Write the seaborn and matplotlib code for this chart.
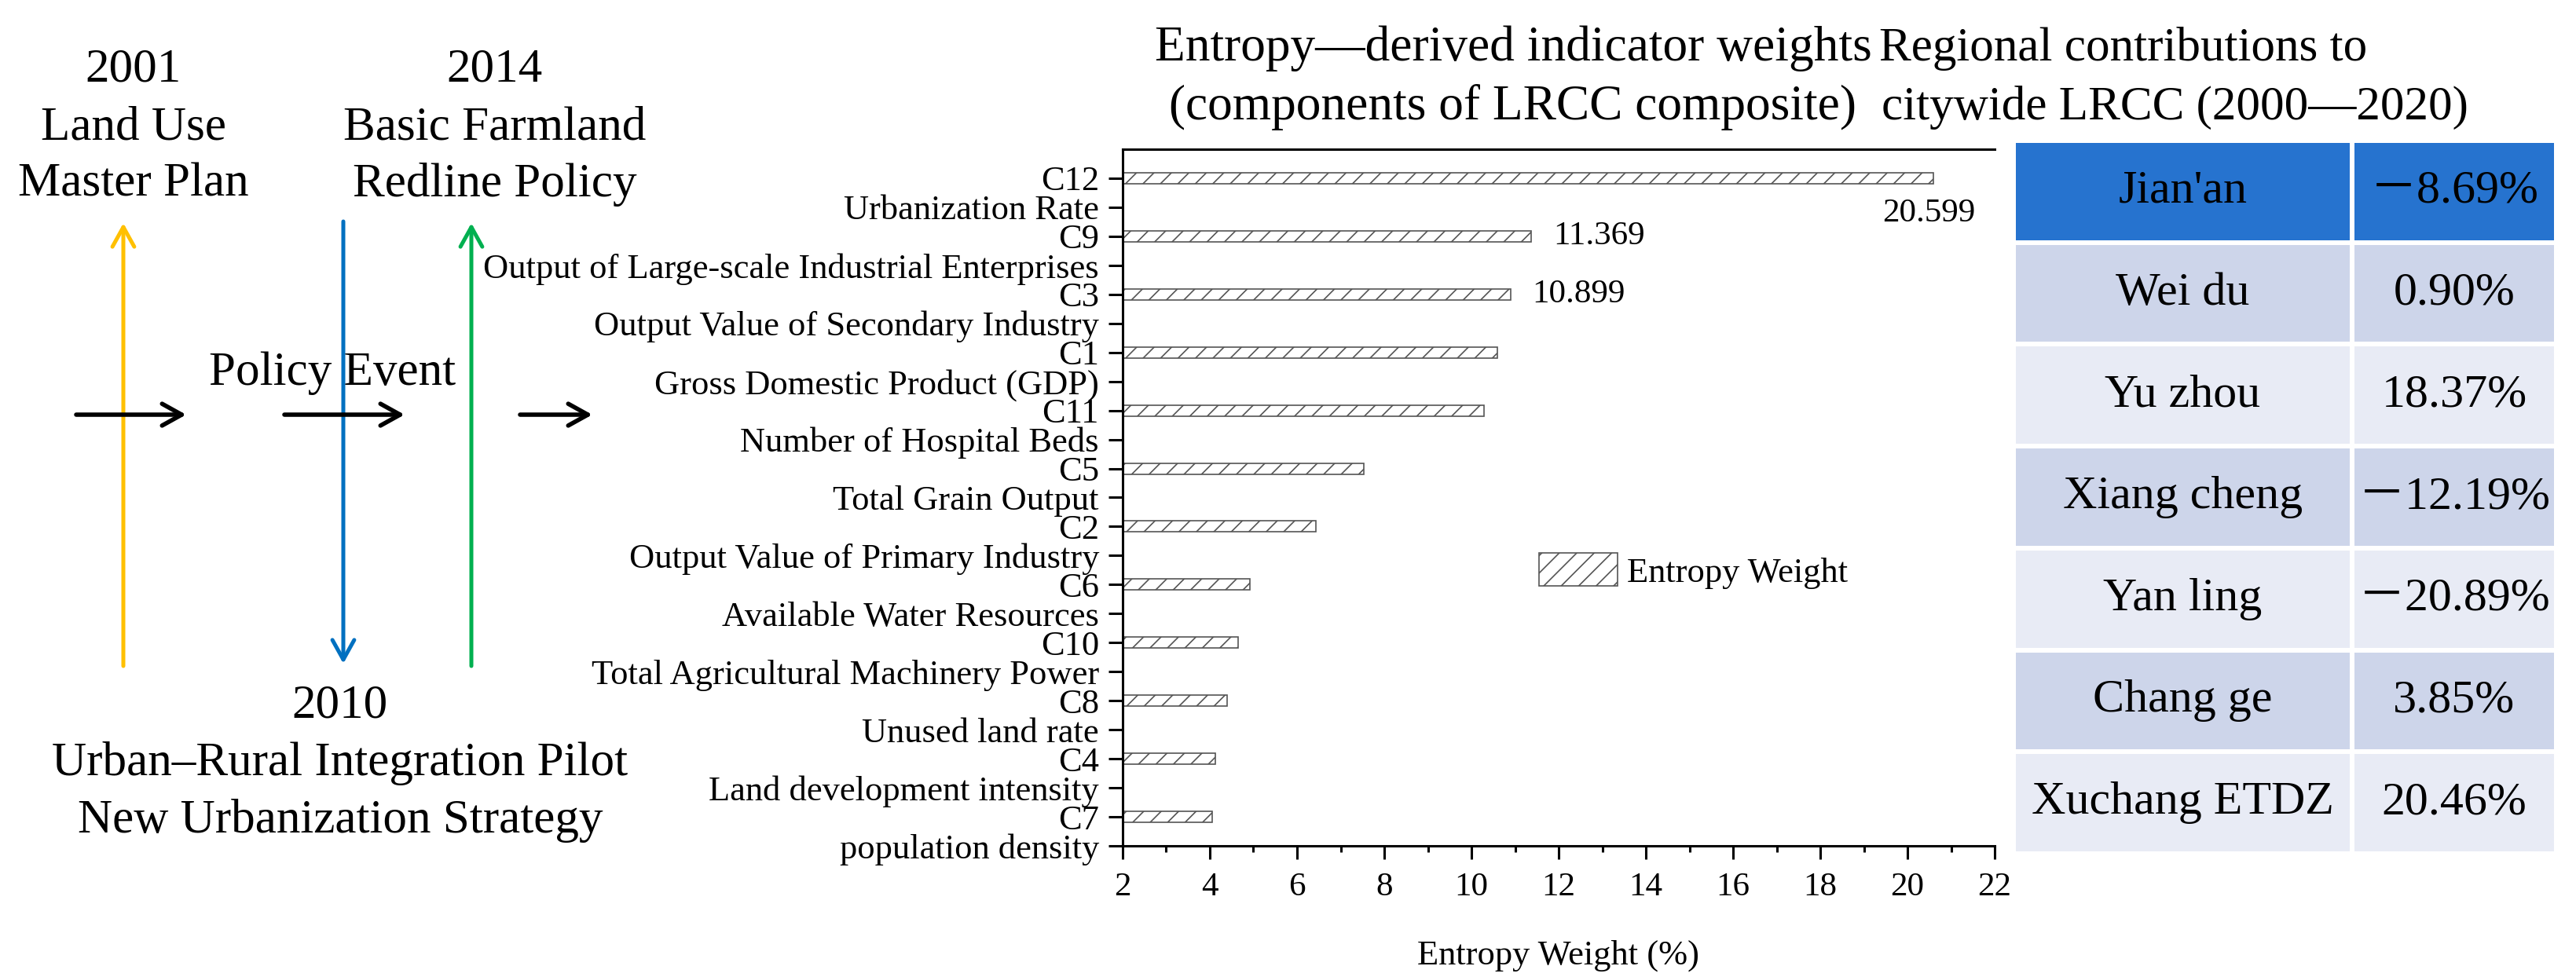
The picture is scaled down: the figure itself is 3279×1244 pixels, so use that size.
import matplotlib
matplotlib.use("Agg")
import matplotlib.pyplot as plt
from matplotlib.colors import ListedColormap
from matplotlib.patches import Patch
from matplotlib.ticker import MultipleLocator
import seaborn as sns
import pandas as pd
import numpy as np

# indicator weights (top to bottom)
CODES = ["C12", "C9", "C3", "C1", "C11", "C5", "C2", "C6", "C10", "C8", "C4", "C7"]
INDICATORS = [
    "Urbanization Rate",
    "Output of Large-scale Industrial Enterprises",
    "Output Value of Secondary Industry",
    "Gross Domestic Product (GDP)",
    "Number of Hospital Beds",
    "Total Grain Output",
    "Output Value of Primary Industry",
    "Available Water Resources",
    "Total Agricultural Machinery Power",
    "Unused land rate",
    "Land development intensity",
    "population density",
]
WEIGHTS = [20.599, 11.369, 10.899, 10.60, 10.29, 7.53, 6.43, 4.92, 4.64, 4.39, 4.13, 4.05]
LABELED = ["C12", "C9", "C3"]

# regional contributions table
REGIONS = ["Jian'an", "Wei du", "Yu zhou", "Xiang cheng", "Yan ling", "Chang ge", "Xuchang ETDZ"]
CONTRIB = [-8.69, 0.90, 18.37, -12.19, -20.89, 3.85, 20.46]

# policy events
EVENT_YEARS = ["2001", "2010", "2014"]
EVENT_NAMES = [
    ["Land Use", "Master Plan"],
    ["Urban\u2013Rural Integration Pilot", "New Urbanization Strategy"],
    ["Basic Farmland", "Redline Policy"],
]
EVENT_COLORS = ["#FFC000", "#0070C0", "#00B050"]

W, H = 3280, 1244
SERIF = ["Liberation Serif", "Noto Sans CJK SC", "DejaVu Sans"]

sns.set_theme(style="ticks")
plt.rcParams["font.family"] = SERIF
plt.rcParams["hatch.linewidth"] = 0.6
for k in ["text.color", "axes.labelcolor", "xtick.color", "ytick.color", "axes.edgecolor"]:
    plt.rcParams[k] = "black"

fig = plt.figure(figsize=(W / 200, H / 200), dpi=200)
fig.patch.set_facecolor("white")

# full-figure canvas in pixel units for the timeline and titles
canvas = fig.add_axes([0, 0, 1, 1])
canvas.set_xlim(0, W)
canvas.set_ylim(H, 0)
canvas.set_axis_off()

BIG = 22
ARROW = "->,head_length=0.45,head_width=0.25"
# (arrow x, tail y, tip y, text centre x, first baseline)
event_layout = [
    (157, 848, 284, 170, 104),
    (437, 282, 845, 433, 914),
    (600, 848, 284, 630, 104),
]
for (ax_x, tail, tip, tx, base), year, names, col in zip(event_layout, EVENT_YEARS, EVENT_NAMES, EVENT_COLORS):
    canvas.annotate("", xy=(ax_x, tip), xytext=(ax_x, tail),
                    arrowprops=dict(arrowstyle=ARROW, color=col, lw=1.8,
                                    mutation_scale=20, shrinkA=0, shrinkB=0))
    for j, line in enumerate([year] + names):
        canvas.text(tx, base + j * 73, line, ha="center", va="baseline", fontsize=BIG)

for x0, x1 in [(97, 237), (362, 515), (662, 754)]:
    canvas.annotate("", xy=(x1, 528), xytext=(x0, 528),
                    arrowprops=dict(arrowstyle=ARROW, color="black", lw=2.0,
                                    mutation_scale=20, shrinkA=0, shrinkB=0))
canvas.text(423, 490, "Policy Event", ha="center", va="baseline", fontsize=BIG)

# titles
canvas.text(1926, 77, "Entropy\u2014derived indicator weights", ha="center", va="baseline", fontsize=22.8)
canvas.text(1926, 152, "(components of LRCC composite)", ha="center", va="baseline", fontsize=22.8)
canvas.text(2392, 77, "Regional contributions to", ha="left", va="baseline", fontsize=BIG)
canvas.text(2395, 152, "citywide LRCC (2000\u20142020)", ha="left", va="baseline", fontsize=BIG)

# bar chart
df = pd.DataFrame({"code": CODES, "indicator": INDICATORS, "weight": WEIGHTS})
ax = fig.add_axes([1429 / W, 1 - 1077 / H, 1110 / W, 887 / H])
sns.barplot(data=df, x="weight", y="code", orient="h", width=0.19, color="white",
            edgecolor="#555555", linewidth=0.6, hatch="///", errorbar=None, ax=ax)

ax.set_xlim(2, 22)
ax.set_ylim(11.5, -0.5)
ax.xaxis.set_major_locator(MultipleLocator(2))
ax.xaxis.set_minor_locator(MultipleLocator(1))
ticks, labels = [], []
for i, (c, name) in enumerate(zip(CODES, INDICATORS)):
    ticks += [i, i + 0.5]
    labels += [c, name]
ax.set_yticks(ticks)
ax.set_yticklabels(labels)
ax.tick_params(axis="y", length=6.5, width=1.1, pad=4.3, labelsize=16)
ax.tick_params(axis="x", which="major", length=6, width=1.1, pad=6, labelsize=15.5)
ax.tick_params(axis="x", which="minor", length=3, width=1.1)
ax.spines["right"].set_visible(False)
for s in ["left", "top", "bottom"]:
    ax.spines[s].set_linewidth(1.1)
ax.set_ylabel("")
ax.set_xlabel("Entropy Weight (%)", fontsize=16, labelpad=17)

for i, (c, v) in enumerate(zip(CODES, WEIGHTS)):
    if c not in LABELED:
        continue
    if i == 0:
        ax.annotate(f"{v:.3f}", xy=(v, i), xytext=(-2, -16), textcoords="offset points",
                    ha="center", va="center", fontsize=15.5)
    else:
        ax.annotate(f"{v:.3f}", xy=(v, i), xytext=(10, 0), textcoords="offset points",
                    ha="left", va="center", fontsize=15.5)

handle = Patch(facecolor="white", edgecolor="#555555", linewidth=0.6, hatch="///", label="Entropy Weight")
ax.legend(handles=[handle], loc="center left", bbox_to_anchor=(0.4775, 0.3946), frameon=False,
          fontsize=16, handlelength=2.25, handleheight=1.08, handletextpad=0.27,
          borderpad=0, borderaxespad=0)

# contributions table
TABLE_COLORS = ["#2673CF", "#CDD5EA", "#E8EBF5"]
row_style = np.array([0] + [1 if i % 2 == 1 else 2 for i in range(1, len(REGIONS))]).reshape(-1, 1)
values_txt = [f"\uff0d{abs(v):.2f}%" if v < 0 else f"{v:.2f}%" for v in CONTRIB]

tab_top, tab_bot = 179, 1087
for left, width, texts in [(2563, 431, REGIONS), (2994, 260, values_txt)]:
    tax = fig.add_axes([left / W, 1 - tab_bot / H, width / W, (tab_bot - tab_top) / H])
    sns.heatmap(row_style, cmap=ListedColormap(TABLE_COLORS), vmin=-0.5, vmax=2.5,
                annot=np.array(texts).reshape(-1, 1), fmt="", cbar=False,
                linewidths=1.6, linecolor="white", xticklabels=False, yticklabels=False,
                annot_kws=dict(fontsize=21.6, color="black", family=SERIF), ax=tax)
    tax.tick_params(length=0)

fig.savefig("out.png", dpi=200, facecolor="white")
